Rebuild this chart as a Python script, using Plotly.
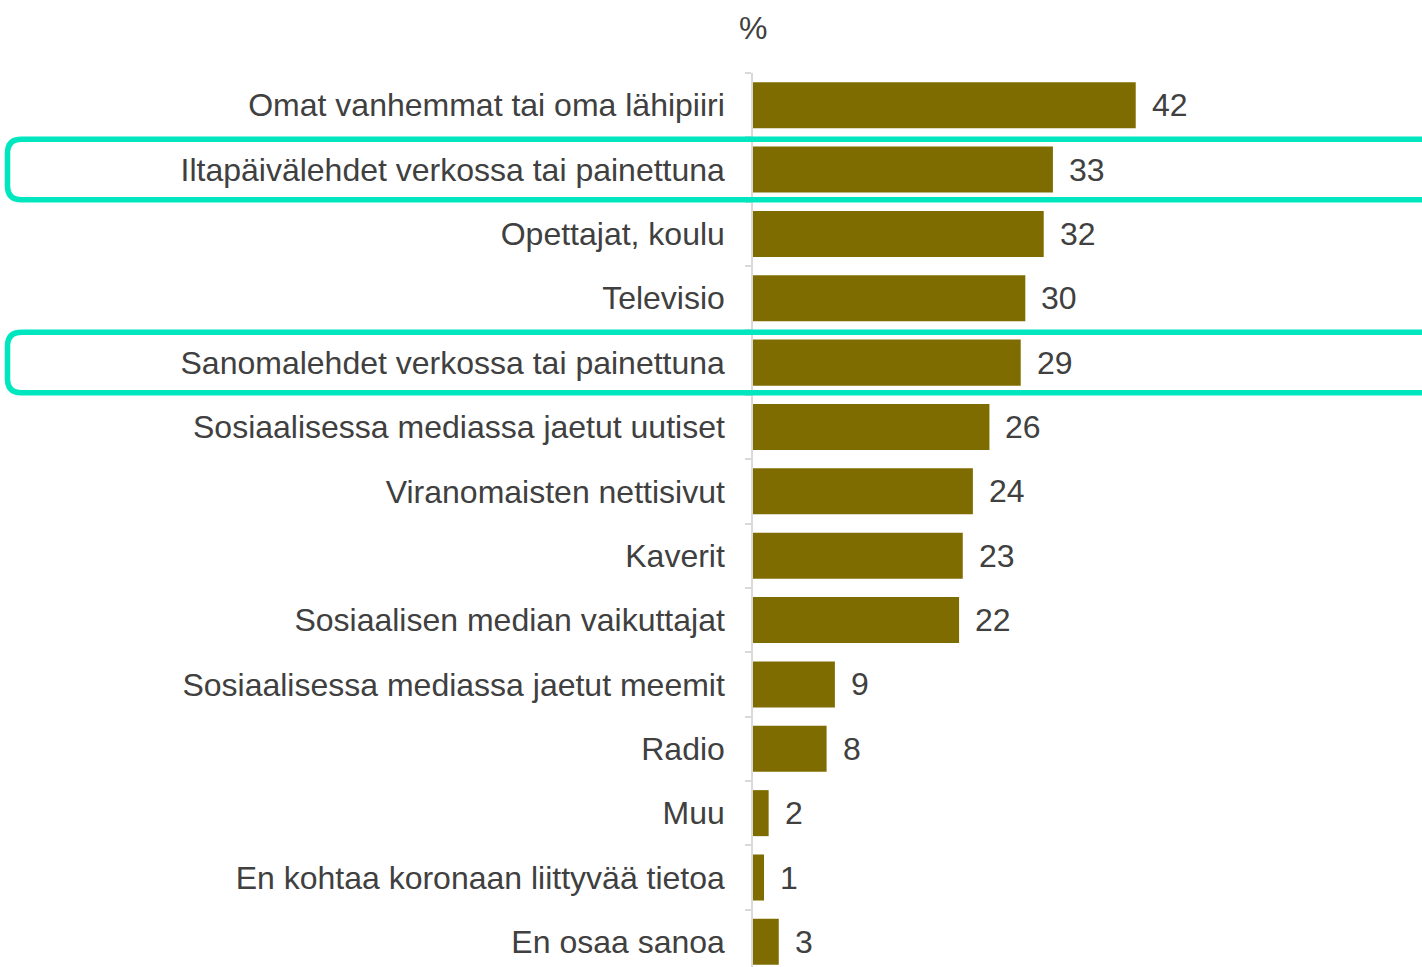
import plotly.graph_objects as go

categories = [
    "Omat vanhemmat tai oma lähipiiri",
    "Iltapäivälehdet verkossa tai painettuna",
    "Opettajat, koulu",
    "Televisio",
    "Sanomalehdet verkossa tai painettuna",
    "Sosiaalisessa mediassa jaetut uutiset",
    "Viranomaisten nettisivut",
    "Kaverit",
    "Sosiaalisen median vaikuttajat",
    "Sosiaalisessa mediassa jaetut meemit",
    "Radio",
    "Muu",
    "En kohtaa koronaan liittyvää tietoa",
    "En osaa sanoa",
]
# bar lengths (labels show rounded values)
values = [41.6, 32.6, 31.6, 29.6, 29.1, 25.7, 23.9, 22.8, 22.4, 8.9, 8.0, 1.7, 1.2, 2.8]
value_labels = ["42", "33", "32", "30", "29", "26", "24", "23", "22", "9", "8", "2", "1", "3"]
highlighted = [1, 4]
unit_label = "%"

W, H = 1422, 967
L, T = 753, 73
PW, PH = W - L, H - T
XMAX = PW / 9.2
ROW_PX = 64.36
NROWS = PH / ROW_PX
FONT = "Liberation Sans, Arial, sans-serif"
TXT = "#404040"
BAR = "#7f6c00"
TEAL = "#00e6bf"
GRID = "#d9d9d9"
FS = 32

fig = go.Figure()
fig.add_trace(go.Bar(
    y=categories, x=values, orientation="h",
    marker=dict(color=BAR, line=dict(width=0)),
    width=0.715, hoverinfo="y",
))

annotations = []
for c, v, lab in zip(categories, values, value_labels):
    annotations.append(dict(
        x=v, y=c, xref="x", yref="y", text=lab, showarrow=False,
        xanchor="left", yanchor="middle", xshift=14,
        font=dict(family=FONT, size=FS, color=TXT),
    ))
annotations.append(dict(
    x=0, y=1, xref="paper", yref="paper", text=unit_label, showarrow=False,
    xanchor="center", yanchor="middle", yshift=45,
    font=dict(family=FONT, size=FS, color=TXT),
))

def px(xp):
    return (xp - L) / PW

shapes = []
rx = 14 / PW
ry = 14 / ROW_PX
for idx in highlighted:
    top = idx - 0.47
    bot = idx + 0.47
    x0 = px(7.5)
    x1 = px(W + 20)
    path = (f"M {x0+rx},{top} L {x1},{top} L {x1},{bot} L {x0+rx},{bot} "
            f"Q {x0},{bot} {x0},{bot-ry} L {x0},{top+ry} Q {x0},{top} {x0+rx},{top} Z")
    shapes.append(dict(type="path", path=path, xref="paper", yref="y",
                       line=dict(color=TEAL, width=5.5), fillcolor="rgba(0,0,0,0)",
                       layer="above"))

fig.update_layout(
    width=W, height=H,
    margin=dict(l=L, r=0, t=T, b=0, pad=0),
    paper_bgcolor="white", plot_bgcolor="white",
    showlegend=False,
    annotations=annotations,
    shapes=shapes,
    xaxis=dict(range=[0, XMAX], showgrid=False, zeroline=False, showticklabels=False,
               showline=False, ticks="", fixedrange=True),
    yaxis=dict(type="category", categoryorder="array", categoryarray=categories,
               range=[NROWS - 0.5, -0.5], showgrid=False, zeroline=False,
               showline=True, linecolor=GRID, linewidth=1.5,
               ticks="outside", tickson="boundaries", ticklen=6, tickcolor=GRID, tickwidth=1.5,
               ticklabelstandoff=20,
               tickfont=dict(family=FONT, size=FS, color=TXT), automargin=False,
               fixedrange=True),
)

fig.write_html("out.html",
               config={"displayModeBar": False},
               post_script="document.body.style.margin='0px';document.body.style.overflow='hidden';")
